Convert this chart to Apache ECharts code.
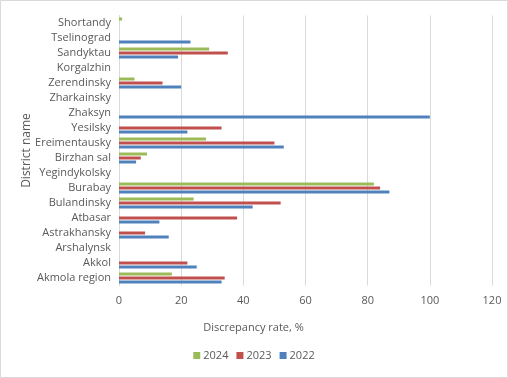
<!DOCTYPE html>
<html><head><meta charset="utf-8">
<script src="https://cdn.jsdelivr.net/npm/echarts@6/dist/echarts.min.js"></script>
<style>html,body{margin:0;padding:0;background:#fff}#c{width:508px;height:378px}</style>
</head><body><div id="c"></div>
<script>
const categories = ['Akmola region','Akkol','Arshalynsk','Astrakhansky','Atbasar','Bulandinsky','Burabay','Yegindykolsky','Birzhan sal','Ereimentausky','Yesilsky','Zhaksyn','Zharkainsky','Zerendinsky','Korgalzhin','Sandyktau','Tselinograd','Shortandy'];
const v2022 = [33, 25, null, 16, 13, 43, 87, null, 5.5, 53, 22, 100, null, 20, null, 19, 23, null];
const v2023 = [34, 22, null, 8.4, 38, 52, 84, null, 7, 50, 33, null, null, 14, null, 35, null, null];
const v2024 = [17, null, null, null, null, 24, 82, null, 9, 28, null, null, null, 5, null, 29, null, 1];
const xTicks = [0, 20, 40, 60, 80, 100, 120];

const font = 'Open Sans, sans-serif';
const chart = echarts.init(document.getElementById('c'));
chart.setOption({
  animation: false,
  textStyle: {fontFamily: font},
  graphic: [{type:'rect', shape:{x:0.5,y:0.5,width:507,height:377}, style:{fill:'none', stroke:'#d9d9d9', lineWidth:1}}],
  grid: {left: 119, right: 16, top: 15.5, bottom: 92.5},
  legend: {
    data: ['2024','2023','2022'], bottom: 12, left: 'center',
    itemWidth: 7, itemHeight: 7, itemGap: 8, icon: 'rect',
    textStyle: {fontSize: 11, color: '#595959', fontFamily: font, padding:[0,0,0,-2]}
  },
  xAxis: {
    type: 'value', min: xTicks[0], max: xTicks[xTicks.length-1], interval: 20,
    name: 'Discrepancy rate, %', nameLocation: 'middle', nameGap: 37, nameMoveOverlap: false,
    nameTextStyle: {fontSize: 11, color: '#595959', fontFamily: font, padding: [0, 104, 0, 0]},
    axisLine: {show: false}, axisTick: {show: false},
    axisLabel: {fontSize: 11, color: '#595959', margin: 10, fontFamily: font},
    splitLine: {lineStyle: {color: '#d9d9d9'}}
  },
  yAxis: {
    type: 'category', data: categories,
    name: 'District name', nameLocation: 'middle', nameGap: 86, nameRotate: 90, nameMoveOverlap: false,
    nameTextStyle: {fontSize: 12, color: '#595959', fontFamily: font},
    axisLine: {show: true, lineStyle: {color: '#d9d9d9'}}, axisTick: {show: false},
    axisLabel: {fontSize: 11, color: '#595959', margin: 8, fontFamily: font, interval: 0}
  },
  series: [
    {name: '2024', type: 'bar', data: v2024, barWidth: 3, barGap: '33%', itemStyle: {color: '#9BBB59'}},
    {name: '2023', type: 'bar', data: v2023, barWidth: 3, barGap: '33%', itemStyle: {color: '#C0504D'}},
    {name: '2022', type: 'bar', data: v2022, barWidth: 3, barGap: '33%', itemStyle: {color: '#4F81BD'}}
  ]
});
</script></body></html>
